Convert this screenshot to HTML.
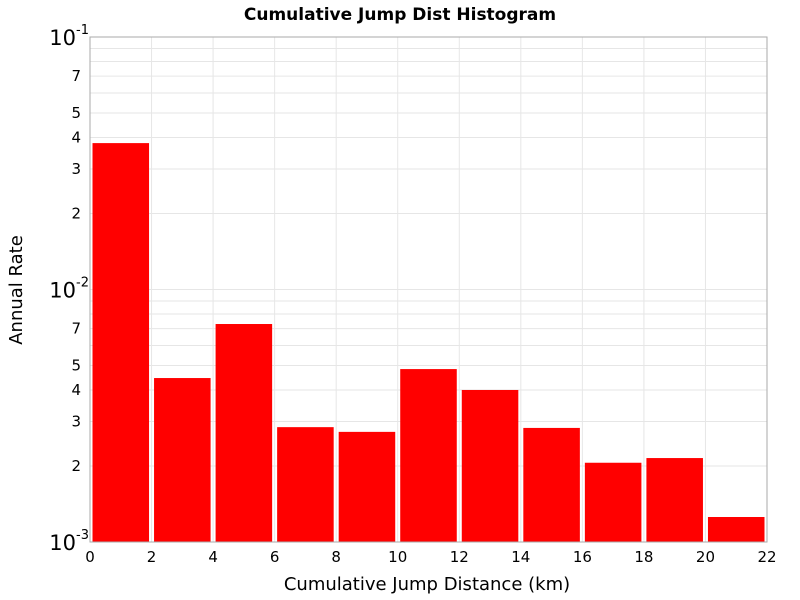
<!DOCTYPE html>
<html><head><meta charset="utf-8"><style>body{margin:0;background:#fff}svg{display:block;font-family:"DejaVu Sans","Liberation Sans",sans-serif}</style></head>
<body>
<svg id="c" width="800" height="600">
<text x="400" y="20" text-anchor="middle" font-size="17" font-weight="bold">Cumulative Jump Dist Histogram</text>
<text x="427" y="590" text-anchor="middle" font-size="18">Cumulative Jump Distance (km)</text>
<text transform="translate(22,290) rotate(-90)" text-anchor="middle" font-size="18">Annual Rate</text>
<g id="grid"></g><g id="bars"></g><g id="axes"></g>
</svg>
<script>
const binStarts=[0,2,4,6,8,10,12,14,16,18,20];
const rates=[0.038,0.00446,0.0073,0.00285,0.00273,0.00484,0.0040,0.00283,0.00206,0.00215,0.001256];
const xTicks=[0,2,4,6,8,10,12,14,16,18,20,22];
const binWidth=2;
const L=90,R=767,T=37,B=542,ns="http://www.w3.org/2000/svg";
const xs=v=>L+(v-0)/22*(R-L);
const ys=v=>T+(Math.log10(0.1)-Math.log10(v))/2*(B-T);
function mk(t,a,p){const e=document.createElementNS(ns,t);for(const k in a)e.setAttribute(k,a[k]);p.appendChild(e);return e;}
const g=document.getElementById('grid'),bg=document.getElementById('bars'),ax=document.getElementById('axes');
for(const t of xTicks){const l=mk('line',{x1:xs(t),x2:xs(t),y1:T,y2:B,stroke:'#e6e6e6'},g);

const tx=mk('text',{x:xs(t),y:B+20,'text-anchor':'middle','font-size':15},ax);tx.textContent=t;
}
for(const d of [0.001,0.01]){for(let m=1;m<=10;m++){const v=d*m;const y=ys(v);
const l=mk('line',{x1:L,x2:R,y1:y,y2:y,stroke:'#e6e6e6'},g);

if(m===2||m===3||m===4||m===5||m===7){const tx=mk('text',{x:L-9,y:y+5,'text-anchor':'end','font-size':15},ax);tx.textContent=m;
}}}
for(const [v,e] of [[0.1,'-1'],[0.01,'-2'],[0.001,'-3']]){const y=ys(v);
const tx=mk('text',{x:L-14,y:y+8,'text-anchor':'end','font-size':21},ax);tx.textContent='10';

const s=mk('text',{x:L-14,y:y-3,'text-anchor':'start','font-size':13},ax);s.textContent=e;
}
binStarts.forEach((s,i)=>{const x0=xs(s)+2.5,x1=xs(s+binWidth)-2.5,y=ys(rates[i]);
const r=mk('rect',{x:x0,y:y,width:x1-x0,height:B-y,fill:'#ff0000'},bg);
});
const f=mk('rect',{x:L,y:T,width:R-L,height:B-T,fill:'none',stroke:'#aaa'},ax);

</script>
</body></html>
